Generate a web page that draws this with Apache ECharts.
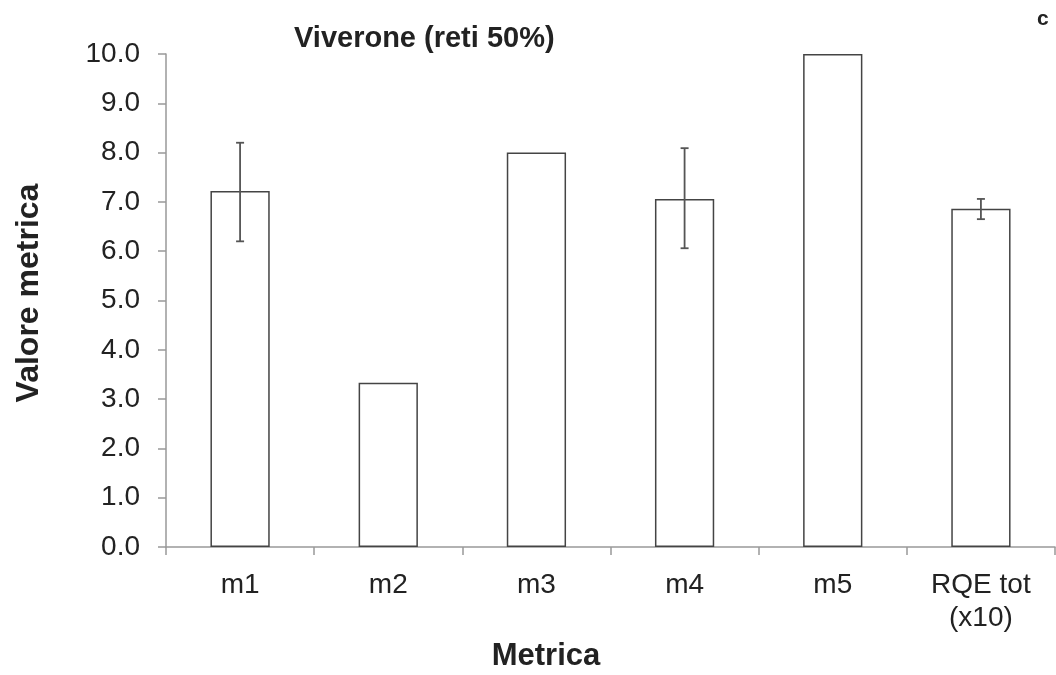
<!DOCTYPE html>
<html><head><meta charset="utf-8">
<script src="https://cdn.jsdelivr.net/npm/echarts@6/dist/echarts.min.js"></script>
<style>html,body{margin:0;padding:0;background:#fff}#c{width:1056px;height:675px}</style>
</head><body><div id="c"></div>
<script>
var categories = ['m1', 'm2', 'm3', 'm4', 'm5', 'RQE tot\n(x10)'];
var values = [7.22, 3.33, 8.0, 7.06, 10.0, 6.86];
var errLow = [6.2, null, null, 6.06, null, 6.65];
var errHigh = [8.2, null, null, 8.09, null, 7.06];
var yTicks = [0, 1, 2, 3, 4, 5, 6, 7, 8, 9, 10];

var chart = echarts.init(document.getElementById('c'), null, {renderer: 'canvas'});
var font = 'Liberation Sans, Arial, sans-serif';
var errData = [];
for (var i = 0; i < categories.length; i++) {
  if (errLow[i] != null) errData.push([i, errLow[i], errHigh[i]]);
}
chart.setOption({
  animation: false,
  backgroundColor: '#fff',
  title: [
    {text: 'Viverone (reti 50%)', left: 289, top: 19, textStyle: {fontFamily: font, fontSize: 29, fontWeight: 'bold', color: '#222'}},
    {text: 'c', left: 1032, top: 4, textStyle: {fontFamily: font, fontSize: 21, fontWeight: 'bold', color: '#222'}}
  ],
  graphic: [
    {type: 'text', style: {text: 'Metrica', fontFamily: font, fontSize: 31, fontWeight: 'bold', fill: '#222', textAlign: 'center', textVerticalAlign: 'middle'}, position: [546, 656], z: 20},
    {type: 'text', style: {text: 'Valore metrica', fontFamily: font, fontSize: 32, fontWeight: 'bold', fill: '#222', textAlign: 'center', textVerticalAlign: 'middle'}, position: [29, 293], rotation: Math.PI / 2, z: 20}
  ],
  grid: {left: 166, right: 1, top: 54, bottom: 128, containLabel: false},
  xAxis: {
    type: 'category', data: categories,
    axisLine: {lineStyle: {color: '#999', width: 1.5}},
    axisTick: {show: true, alignWithLabel: false, length: 8, lineStyle: {color: '#999', width: 1.5}},
    axisLabel: {fontFamily: font, fontSize: 28, color: '#222', margin: 22, lineHeight: 33, interval: 0}
  },
  yAxis: {
    type: 'value', min: 0, max: 10, interval: 1,
    axisLine: {show: true, lineStyle: {color: '#999', width: 1.5}},
    axisTick: {show: true, length: 8, lineStyle: {color: '#999', width: 1.5}},
    splitLine: {show: false},
    axisLabel: {fontFamily: font, fontSize: 28, color: '#222', margin: 26,
      formatter: function (v) { return yTicks.indexOf(v) >= 0 ? v.toFixed(1) : ''; }}
  },
  series: [
    {
      type: 'bar', data: values, barWidth: '40%',
      itemStyle: {color: '#fff', borderColor: '#444', borderWidth: 1.5}
    },
    {
      type: 'custom', data: errData, z: 10,
      renderItem: function (params, api) {
        var x = api.value(0);
        var lo = api.coord([x, api.value(1)]);
        var hi = api.coord([x, api.value(2)]);
        var w = 4;
        var st = {stroke: '#555', lineWidth: 1.8};
        return {type: 'group', children: [
          {type: 'line', shape: {x1: lo[0], y1: lo[1], x2: hi[0], y2: hi[1]}, style: st},
          {type: 'line', shape: {x1: lo[0] - w, y1: lo[1], x2: lo[0] + w, y2: lo[1]}, style: st},
          {type: 'line', shape: {x1: hi[0] - w, y1: hi[1], x2: hi[0] + w, y2: hi[1]}, style: st}
        ]};
      }
    }
  ]
});
</script></body></html>
